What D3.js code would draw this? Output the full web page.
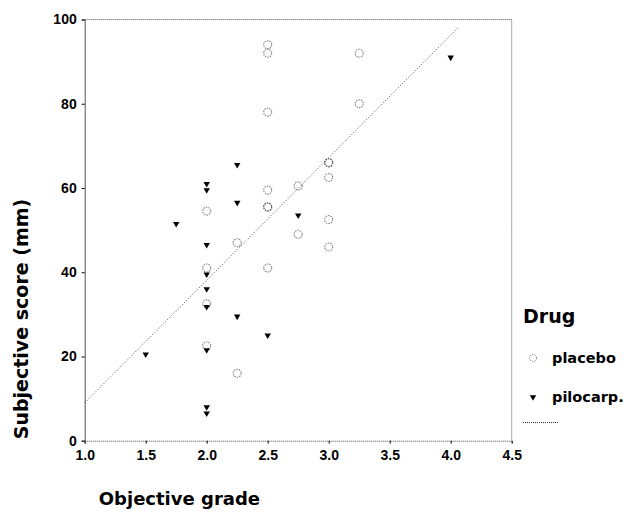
<!DOCTYPE html>
<html>
<head>
<meta charset="utf-8">
<style>
    body{margin:0;background:#fff}
    svg text{fill:#000}
    .tick text{font-family:"Liberation Sans",Arial,sans-serif;font-weight:bold;font-size:14px}
</style>
</head>
<body>
<svg width="631" height="519"></svg>
<script src="https://d3js.org/d3.v7.min.js"></script>
<script>
// data
var placeboX = [2.5, 2.5, 2.5, 3.25, 3.25, 3.0, 3.0, 3.0, 2.75, 2.5, 2.5, 2.5, 2.0, 2.25, 2.5, 2.0, 2.0, 2.0, 2.25, 2.75, 3.0, 3.0];
var placeboY = [94, 92, 78, 92, 80, 66, 66, 62.5, 60.5, 59.5, 55.5, 55.5, 54.5, 47, 41, 41, 32.5, 22.5, 16, 49, 52.5, 46];
var piloX = [4.0, 2.25, 2.0, 2.0, 2.25, 2.75, 1.75, 2.0, 2.0, 2.0, 2.0, 2.25, 2.5, 2.0, 1.5, 2.0, 2.0];
var piloY = [91, 65.5, 61, 59.5, 56.5, 53.5, 51.5, 46.5, 39.5, 36, 31.8, 29.5, 25, 21.5, 20.5, 8, 6.5];
var xTicks = [1.0, 1.5, 2.0, 2.5, 3.0, 3.5, 4.0, 4.5];
var yTicks = [0, 20, 40, 60, 80, 100];
var fitIntercept = 9.0, fitSlope = 29.1;   // line: y = a + b*(x-1)
var fitRange = [1.0, 4.07];
var legendLabels = ["placebo", "pilocarp."];

var svg = d3.select("svg"),
    margin = {top: 19.5, left: 84.7},
    width = 427,
    height = 421.2,
    g = svg.append("g").attr("transform", "translate(" + margin.left + "," + margin.top + ")");

var x = d3.scaleLinear().domain([1, 4.5]).range([0, width]);
var y = d3.scaleLinear().domain([0, 100]).range([height, 0]);

// frame (top and right, dotted)
g.append("path")
    .attr("d", "M0,0H" + width + "V" + height)
    .attr("fill", "none")
    .attr("stroke", "#555")
    .attr("stroke-width", 1)
    .attr("stroke-dasharray", "1,1");

var ax = g.append("g")
    .attr("transform", "translate(0," + height + ")")
    .call(d3.axisBottom(x).tickValues(xTicks).tickFormat(d3.format(".1f")).tickSize(3).tickPadding(6));
ax.select(".domain").attr("stroke", "#444").attr("stroke-dasharray", "1,1");

var ay = g.append("g")
    .call(d3.axisLeft(y).tickValues(yTicks).tickSize(3).tickPadding(5));
ay.select(".domain").attr("stroke", "#555");

// fit line
var line = d3.line()
    .x(function(d) { return x(d); })
    .y(function(d) { return y(fitIntercept + fitSlope * (d - 1)); });
g.append("path")
    .datum(fitRange)
    .attr("d", line)
    .attr("fill", "none")
    .attr("stroke", "#333")
    .attr("stroke-width", 0.9)
    .attr("stroke-dasharray", "1,2");

// placebo circles
g.append("g").selectAll("circle")
    .data(placeboX.map(function(v, i) { return [v, placeboY[i]]; }))
    .enter().append("circle")
    .attr("cx", function(d) { return x(d[0]); })
    .attr("cy", function(d) { return y(d[1]); })
    .attr("r", 4)
    .attr("fill", "none")
    .attr("stroke", "#000")
    .attr("stroke-opacity", 0.5)
    .attr("stroke-width", 1.1)
    .attr("stroke-dasharray", "1.5,1");

// pilocarpine triangles
var tri = d3.symbol().type(d3.symbolTriangle).size(18);
g.append("g").selectAll("path")
    .data(piloX.map(function(v, i) { return [v, piloY[i]]; }))
    .enter().append("path")
    .attr("d", tri)
    .attr("transform", function(d) { return "translate(" + x(d[0]) + "," + y(d[1]) + ") rotate(180)"; })
    .attr("fill", "#000");

// axis titles
svg.append("text")
    .attr("transform", "translate(28,319) rotate(-90)")
    .attr("text-anchor", "middle")
    .style("font-family", "DejaVu Sans")
    .style("font-weight", "bold")
    .style("font-size", "19px")
    .text("Subjective score (mm)");

svg.append("text")
    .attr("x", 260)
    .attr("y", 505)
    .attr("text-anchor", "end")
    .style("font-family", "DejaVu Sans")
    .style("font-weight", "bold")
    .style("font-size", "18px")
    .text("Objective grade");

// legend
var lg = svg.append("g").attr("transform", "translate(523,0)");
lg.append("text")
    .attr("x", 0).attr("y", 323)
    .style("font-family", "DejaVu Sans")
    .style("font-weight", "bold")
    .style("font-size", "19px")
    .text("Drug");
lg.append("circle")
    .attr("cx", 10).attr("cy", 358).attr("r", 3.5)
    .attr("fill", "none").attr("stroke", "#000").attr("stroke-opacity", 0.45)
    .attr("stroke-dasharray", "1.5,1");
lg.append("path")
    .attr("d", tri)
    .attr("transform", "translate(10,397) rotate(180)")
    .attr("fill", "#000");
lg.selectAll(".lab")
    .data(legendLabels)
    .enter().append("text")
    .attr("class", "lab")
    .attr("x", 29)
    .attr("y", function(d, i) { return 363 + i * 39; })
    .style("font-family", "DejaVu Sans")
    .style("font-weight", "bold")
    .style("font-size", "14.5px")
    .text(function(d) { return d; });
lg.append("line")
    .attr("x1", 0).attr("x2", 36).attr("y1", 422.5).attr("y2", 422.5)
    .attr("stroke", "#333").attr("stroke-dasharray", "1,1");
</script>
</body>
</html>
